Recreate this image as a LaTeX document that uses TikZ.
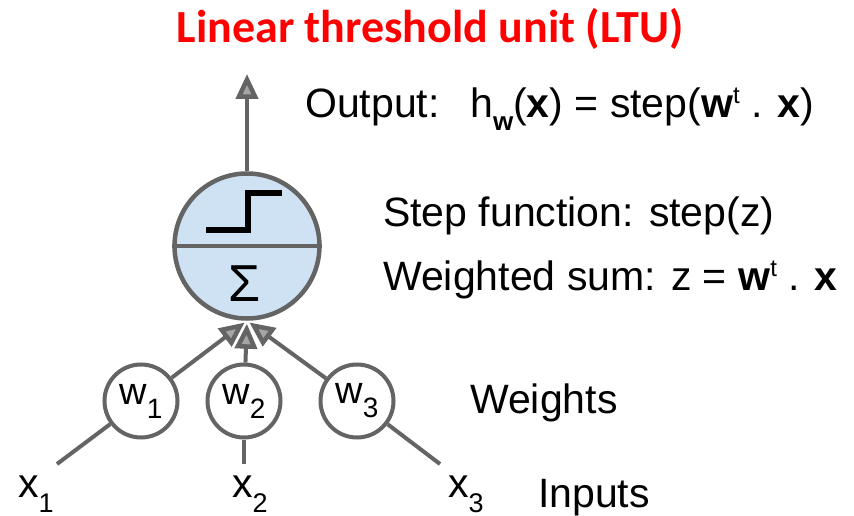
\documentclass[tikz,border=0pt]{standalone}
\usepackage{fontspec}
\setmainfont{Liberation Sans}
\newfontfamily\titlefont{Carlito}
\usetikzlibrary{arrows.meta}
\definecolor{linegray}{RGB}{100,100,100}
\definecolor{tipgray}{RGB}{165,165,165}
\definecolor{unitblue}{RGB}{207,226,243}
\definecolor{titlered}{RGB}{255,0,0}
\newcommand{\lowtxt}[2][13pt]{\raisebox{-#1}{\fontsize{26}{26}\selectfont #2}}
\newcommand{\hightxt}[1]{\raisebox{14pt}{\fontsize{24}{24}\selectfont #1}}
\begin{document}
\begin{tikzpicture}[
  x=1pt, y=-1pt,
  wire/.style={draw=linegray, line width=4pt},
  arrow/.style={wire, -{Triangle[length=25pt, width=22pt, fill=tipgray, line width=4.5pt]}},
  unit/.style={circle, draw=linegray, line width=4.5pt, fill=unitblue, minimum size=145pt, inner sep=0pt},
  weight/.style={circle, draw=linegray, line width=4pt, fill=white, minimum size=73pt, inner sep=0pt, font=\fontsize{38}{38}\selectfont},
  lab/.style={anchor=base west, inner sep=0pt, font=\fontsize{41}{41}\selectfont}
]
\useasboundingbox (0,0) rectangle (854,516);
\node[anchor=base, text=titlered, font=\titlefont\bfseries\fontsize{46}{46}\selectfont] (title) at (430,43) {Linear threshold unit (LTU)};
% the unit
\node[unit] (sum) at (247,246) {};
\draw[wire] (sum.west) -- (sum.east);
\draw[line width=6pt, black] (206,230) -- (248,230) -- (248,193) -- (282,193);
\node[font=\fontsize{52}{52}\selectfont] (sigma) at (245,284) {Σ};
\coordinate (out) at (247,74);
\draw[arrow] (sum) -- (out);
% weights and inputs
\foreach \i/\x/\xin in {1/141/57, 2/244/244, 3/357/440} {
  \node[weight] (w\i) at (\x,401) {w\lowtxt[14pt]{\fontsize{28}{28}\selectfont\i}};
  \coordinate (in\i) at (\xin,464);
  \draw[wire] (in\i) -- (w\i);
  \draw[arrow, shorten >=3pt] (w\i) -- (sum.south);
}
\foreach \i/\x in {1/18, 2/232, 3/448} {
  \node[lab] (x\i) at (\x,497) {x\lowtxt[15pt]{\fontsize{27}{27}\selectfont\i}};
}
% texts
\node[lab] (output) at (305,118) {Output:};
\node[lab] (hyp) at (470,118) {h\lowtxt{\bfseries w}(\textbf{x}) = step(\textbf{w}\hightxt{t} . \textbf{x})};
\node[lab] (stepfn) at (383,226) {Step function: step(z)};
\node[lab] (wsum) at (383,290) {Weighted sum: z = \textbf{w}\hightxt{t} . \textbf{x}};
\node[lab] (weights) at (470,413) {Weights};
\node[lab] (inputs) at (538,507) {Inputs};
\end{tikzpicture}
\end{document}
